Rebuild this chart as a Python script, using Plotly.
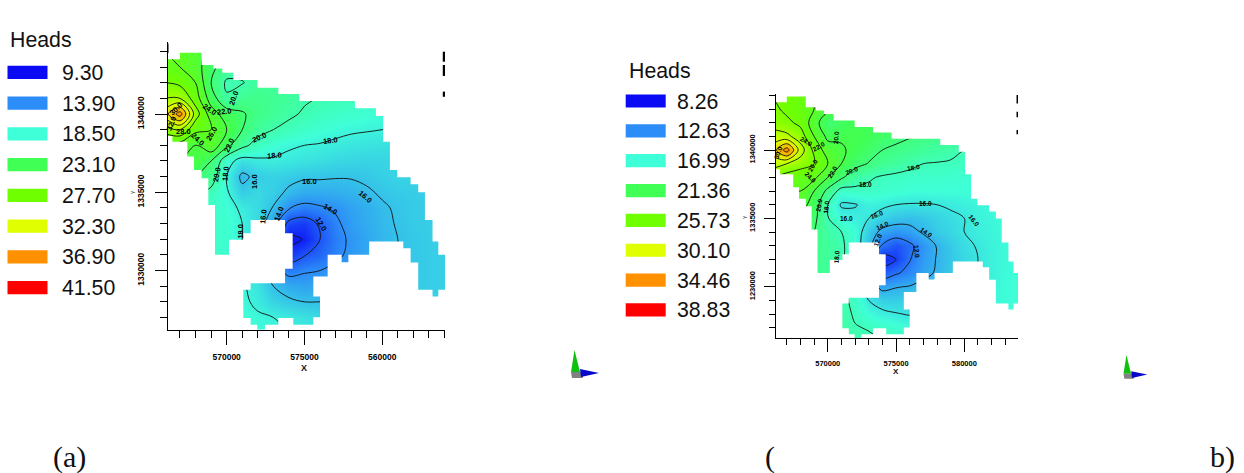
import plotly.graph_objects as go

W, H = 1244, 473

# grid nodes (km)
x_nodes = [566, 567, 568, 569, 570, 571, 572, 573, 574, 575, 576, 577, 578, 579, 580, 581, 582, 583, 584]
y_nodes_top_down = [1344, 1343, 1342, 1341, 1340, 1339, 1338, 1337, 1336, 1335, 1334, 1333, 1332, 1331, 1330, 1329, 1328, 1327, 1326]

heads_a = [
 [26,26,25,23,22,21,21,20.8,20.6,20.4,20.2,20,19.8,19.6,19.4,19.2,19,18.8,18.6],
 [26.5,26,25,22.5,21,20.6,20.6,20.6,20.5,20.3,20.1,19.9,19.7,19.5,19.3,19.1,18.9,18.7,18.5],
 [28,27.5,26,22,19.7,19.9,20.7,20.7,20.5,20.3,20.1,19.9,19.6,19.4,19.2,19,18.8,18.6,18.4],
 [30,30,27,23,20.2,21,21.2,20.9,20.6,20.2,19.9,19.6,19.4,19.1,18.9,18.7,18.5,18.3,18.1],
 [33,37,29,25,23,22.2,21.3,20.8,20.3,19.8,19.3,19.1,18.9,18.7,18.5,18.3,18.1,17.9,17.7],
 [29,30,26.5,26,24,22,20.6,20,19.5,19,18.7,18.4,18.2,18.1,18,17.9,17.8,17.7,17.6],
 [25,25,24,25.5,22.5,20.5,19.3,18.6,18.2,18,17.9,17.7,17.5,17.4,17.3,17.2,17.1,17,17],
 [24,24,24,22,18.7,17.3,17.7,17.8,17.6,17.4,17.2,17,16.9,16.8,16.8,16.8,16.8,16.8,16.8],
 [23,23,22,21,18,15.6,16.5,16.7,16.5,16.2,16.2,16.1,16.1,16.3,16.6,16.8,16.8,16.8,16.8],
 [22,21,20.5,19.5,18.2,16.5,17,16.6,15.7,15.2,15.2,15.3,15.5,15.8,16.2,16.4,16.5,16.6,16.6],
 [21,20,19.5,19,18.6,17.7,17,15.9,14.1,13.5,13.8,14.2,14.8,15.3,15.8,16.2,16.4,16.5,16.6],
 [20,20,19.5,19,18.8,18,17,14.8,11.5,11,12.3,13.7,14.6,15.2,15.7,16.1,16.4,16.5,16.6],
 [20,20,19.5,19,18.8,18,16.5,14,9.5,10.1,12,13.4,14.3,15,15.6,16,16.3,16.5,16.6],
 [20,20,19.5,19,18.7,18,16.5,14,10.8,11.9,12.6,13.6,14.4,15.1,15.6,16,16.3,16.5,16.6],
 [20,20,19.5,19,18.6,18,17,15,13.3,13.8,14,14.5,15,15.4,15.8,16.1,16.3,16.5,16.6],
 [20,20,19.5,19,18.6,18.2,17.4,16,15.2,14.9,15.1,15.3,15.5,15.8,16,16.2,16.4,16.5,16.6],
 [20,20,19.5,19,18.7,18.3,17.7,16.8,16.3,16,16,16,16,16.1,16.2,16.3,16.4,16.5,16.6],
 [20,20,19.5,19,18.8,18.6,18.2,18,17.7,17.4,17,16.8,16.7,16.6,16.5,16.5,16.5,16.5,16.6],
 [20,20,19.5,19,18.9,18.7,18.4,18.2,18,17.7,17.3,17,16.9,16.8,16.7,16.6,16.6,16.6,16.6],
]
heads_b = [
 [26,26,25,24,23,22,21.5,21.2,21,20.8,20.5,20.3,20,19.8,19.6,19.4,19.2,19,18.8],
 [26.5,25.5,25,24,22.5,21.5,21.3,21.2,21,20.8,20.5,20.2,19.9,19.7,19.5,19.3,19,18.8,18.6],
 [27,26.5,25.5,23,20.3,21,21.4,21.2,21,20.7,20.4,20.1,19.8,19.6,19.4,19.2,18.9,18.7,18.5],
 [29,28.5,27,24,21.5,21.7,21.7,21.3,20.8,20.4,20.1,19.8,19.5,19.3,19.1,18.9,18.7,18.5,18.3],
 [31,35,29,25.5,23,22.3,21.4,20.7,20,19.7,19.4,19.1,18.8,18.5,18,17.8,17.7,17.6,17.5],
 [29,28,27,26,24,22,20.6,19.9,19.3,18.9,18.4,18,17.9,17.8,17.7,17.6,17.5,17.4,17.3],
 [26,25,24.5,24.5,22,20.3,18.8,18.2,17.8,17.6,17.5,17.4,17.4,17.3,17.2,17.2,17.1,17.1,17],
 [25,24,24,22,19.5,17.3,17.6,17.6,17.4,17.2,17,17,17,17,17,17,17,17,17],
 [24,24,23,21,18,15.8,15.9,16.5,16.3,16,15.9,15.9,16,16.2,16.4,16.6,16.8,16.9,17],
 [23,23,22,20.5,18.1,16.8,16.4,16,15.3,14.8,14.6,14.9,15.3,15.7,16,16.5,16.7,16.9,17],
 [22,22,21,20,18.6,18,17,15,13.5,13,13.4,14.2,15,15.5,16,16.3,16.6,16.9,17],
 [21,21,20.5,19.5,19,18.3,17,14.5,11.8,10.7,11.6,13,14.1,15,15.7,16.1,16.5,16.8,17],
 [21,21,20.5,19.5,19,18.3,16.8,14,9,10,11.9,13.2,14.1,14.9,15.5,16,16.5,16.8,17],
 [21,21,20.5,19.5,19,18.3,16.8,14,11,11.8,12.5,13.5,14.2,15,15.6,16.1,16.5,16.8,17],
 [21,21,20.5,19.5,19,18.3,17.2,15,13.5,13.9,14.1,14.6,15.1,15.6,16,16.3,16.6,16.9,17],
 [20.5,20.5,20,19.5,19,18.4,17.6,16,15.2,15.1,15.3,15.6,15.8,16,16.2,16.5,16.7,16.9,17],
 [20.5,20.5,20,19.5,19,18.6,17.8,16.9,16.4,16.1,15.9,16.1,16.2,16.4,16.5,16.6,16.8,16.9,17],
 [20,20,20,19.5,19.2,18.8,18.1,17.9,17.6,17.3,17,17,16.9,16.9,16.8,16.8,16.9,16.9,17],
 [20,20,20,19.5,19.2,19,18.5,18.3,18,17.7,17.4,17.2,17.1,17,17,17,17,17,17],
]

# model domain outline (km), shared by both maps
outline_x = [567.0,568.39,568.39,569.14,569.14,569.72,569.72,570.43,570.43,571.97,571.97,573.32,573.32,574.67,574.67,
 578.24,578.24,579.59,579.59,580.06,580.06,580.49,580.49,580.96,580.96,581.82,581.82,582.31,582.31,582.74,582.74,
 583.23,583.23,583.6,583.6,584.09,584.09,583.6,583.6,583.23,583.23,582.31,582.31,581.82,581.82,581.35,581.35,
 579.16,579.16,577.82,577.82,577.39,577.39,576.49,576.49,575.57,575.57,576.0,576.0,575.57,575.57,574.28,574.28,
 573.32,573.32,572.46,572.46,571.97,571.97,571.54,571.54,571.07,571.07,571.54,571.54,573.75,573.75,574.24,574.24,
 573.75,573.75,571.54,571.54,571.07,571.07,570.15,570.15,569.25,569.25,568.82,568.82,568.39,568.39,567.9,567.9,
 567.47,567.47,566.51,566.51,566.15,566.15,567.0]
outline_y = [1343.91,1343.91,1343.13,1343.13,1342.9,1342.9,1342.64,1342.64,1342.17,1342.17,1341.68,1341.68,1341.28,1341.28,1340.83,
 1340.83,1340.36,1340.36,1339.87,1339.87,1338.23,1338.23,1336.43,1336.43,1335.96,1335.96,1335.51,1335.51,1335.0,1335.0,1333.23,
 1333.23,1331.85,1331.85,1331.0,1331.0,1328.77,1328.77,1328.34,1328.34,1328.77,1328.77,1330.51,1330.51,1331.43,1331.43,1331.85,
 1331.85,1331.0,1331.0,1330.53,1330.53,1331.0,1331.0,1329.62,1329.62,1328.34,1328.34,1327.02,1327.02,1326.53,1326.53,1326.96,
 1326.96,1326.53,1326.53,1326.11,1326.11,1326.53,1326.53,1326.96,1326.96,1328.77,1328.77,1329.19,1329.19,1330.11,1330.11,1332.38,
 1332.38,1333.23,1333.23,1332.38,1332.38,1331.96,1331.96,1331.0,1331.0,1334.19,1334.19,1335.89,1335.89,1336.43,1336.43,1337.28,
 1337.28,1338.23,1338.23,1338.6,1338.6,1343.5,1343.5]

legend_a = [9.30, 13.90, 18.50, 23.10, 27.70, 32.30, 36.90, 41.50]
legend_b = [8.26, 12.63, 16.99, 21.36, 25.73, 30.10, 34.46, 38.83]
legend_colors = ["#0a0af5", "#2c8cf8", "#3fffd8", "#40ff55", "#70ff00", "#e0ff00", "#ff9000", "#ff0000"]

tick_vals = [570, 575, 580]
xticks_a = ["<b>570000</b>", "<b>575000</b>", "<b>560000</b>"]
xticks_b = ["<b>570000</b>", "<b>575000</b>", "<b>580000</b>"]
ytick_vals = [1330, 1335, 1340]
yticks_a = ["<b>1330000</b>", "<b>1335000</b>", "<b>1340000</b>"]
yticks_b = ["<b>1230000</b>", "<b>1335000</b>", "<b>1340000</b>"]

# contour labels: x km, y km, text, angle
labels_a = [
 (566.04, 1339.79, "30.0", -70), (566.45, 1339.4, "32.0", -70), (566.79, 1340.32, "30.0", -45),
 (567.22, 1338.87, "28.0", 0), (568.14, 1338.34, "24.0", 45), (569.04, 1338.77, "26.0", -60),
 (568.89, 1340.26, "24.0", 35), (569.89, 1340.15, "22.0", -5), (570.47, 1341.06, "20.0", -70),
 (570.21, 1338.02, "22.0", -65), (572.1, 1338.51, "20.0", -25), (573.1, 1337.38, "18.0", -5),
 (576.7, 1338.3, "18.0", -8), (569.36, 1336.15, "20.0", -80), (569.96, 1336.17, "18.0", -85),
 (571.82, 1335.72, "16.0", -90), (575.35, 1335.66, "16.0", 0), (578.89, 1334.72, "16.0", 40),
 (573.36, 1333.66, "14.0", -70), (576.7, 1333.91, "14.0", 30), (576.06, 1332.91, "12.0", 60),
 (572.36, 1333.45, "16.0", -85), (570.9, 1332.53, "18.0", -90),
]
labels_b = [
 (566.39, 1339.8, "30.0", -70), (568.46, 1340.66, "24.0", 30), (569.32, 1340.29, "22.0", -30),
 (570.59, 1340.93, "20.0", -85), (568.88, 1338.9, "26.0", -60), (568.76, 1338.0, "24.0", 45),
 (570.37, 1338.41, "22.0", -60), (571.76, 1338.54, "20.0", -20), (572.73, 1337.51, "18.0", 0),
 (576.27, 1338.73, "18.0", -10), (569.32, 1335.98, "20.0", -80), (569.88, 1335.8, "18.0", -85),
 (571.34, 1335.0, "16.0", 0), (573.59, 1335.32, "16.0", -20), (577.17, 1336.12, "16.0", 0),
 (580.73, 1334.88, "16.0", 50), (574.02, 1334.46, "14.0", -25), (577.24, 1334.0, "14.0", 35),
 (573.63, 1333.41, "12.0", -70), (576.51, 1332.56, "12.0", 85), (570.66, 1332.2, "18.0", -85),
]

blobs_a_x = [566.15, 566.15, None, 584.0, 584.0, None, 584.0, 584.0, None, 584.0, 584.0]
blobs_a_y = [1344.5, 1343.9, None, 1343.98, 1343.34, None, 1343.13, 1342.43, None, 1341.43, 1341.1]
blobs_b_x = [583.95, 583.95, None, 583.95, 583.95, None, 583.95, 583.95]
blobs_b_y = [1344.02, 1343.41, None, 1342.8, 1342.39, None, 1341.46, 1341.15]
smear_b_x = [564.3, 566.2]
smear_b_y = [1326.02, 1326.1]


def px(x): return x / W
def py(y): return 1 - y / H


def scale(levels):
    lo, hi = levels[0], levels[-1]
    return [[(v - lo) / (hi - lo), c] for v, c in zip(levels, legend_colors)]


fig = go.Figure()


def add_map(heads, levels, xa, ya):
    rows = heads[::-1]
    ys = y_nodes_top_down[::-1]
    fig.add_trace(go.Heatmap(x=x_nodes, y=ys, z=rows, zsmooth="best", colorscale=scale(levels),
                             zmin=levels[0], zmax=levels[-1], showscale=False, hoverinfo="skip", xaxis=xa, yaxis=ya))
    fig.add_trace(go.Contour(x=x_nodes, y=ys, z=rows, showscale=False, hoverinfo="skip", xaxis=xa, yaxis=ya,
                             contours=dict(coloring="none", start=10, end=36, size=2),
                             line=dict(color="#111", width=0.9, smoothing=1)))
    cx = (outline_x + outline_x[:1])[::-1]
    cy = (outline_y + outline_y[:1])[::-1]
    mx = [550, 600, 600, 550, 550] + cx + [550]
    my = [1360, 1360, 1310, 1310, 1360] + cy + [1360]
    fig.add_trace(go.Scatter(x=mx, y=my, mode="lines", fill="toself", fillcolor="white", line=dict(width=0),
                             hoverinfo="skip", xaxis=xa, yaxis=ya))


add_map(heads_a, legend_a, "x", "y")
add_map(heads_b, legend_b, "x2", "y2")

fig.add_trace(go.Scatter(x=blobs_a_x, y=blobs_a_y, mode="lines", line=dict(color="black", width=3.5), cliponaxis=False,
                         hoverinfo="skip", xaxis="x", yaxis="y"))
fig.add_trace(go.Scatter(x=blobs_b_x, y=blobs_b_y, mode="lines", line=dict(color="black", width=3.5), cliponaxis=False,
                         hoverinfo="skip", xaxis="x2", yaxis="y2"))
fig.add_trace(go.Scatter(x=smear_b_x, y=smear_b_y, mode="lines", line=dict(color="black", width=1.5), cliponaxis=False,
                         hoverinfo="skip", xaxis="x2", yaxis="y2"))


def axis(dom, rng, vals, text, size, anchor, angle, major, minor, standoff):
    return dict(domain=dom, range=rng, tickmode="array", tickvals=vals, ticktext=text, anchor=anchor,
                tickangle=angle, tickfont=dict(size=size, color="#000", family="Liberation Sans"),
                ticks="outside", ticklen=major, tickcolor="#000", tickwidth=1, showgrid=False, zeroline=False,
                showline=True, linecolor="#000", linewidth=1.3, layer="above traces", ticklabelstandoff=standoff,
                minor=dict(tickmode="linear", tick0=566, dtick=1, ticks="outside", ticklen=minor, tickcolor="#000", tickwidth=1, showgrid=False))


layout = dict(
    width=W, height=H, margin=dict(l=0, r=0, t=0, b=0), paper_bgcolor="white", plot_bgcolor="white", showlegend=False,
    xaxis=axis([px(168), px(445)], [566.23, 584.03], tick_vals, xticks_a, 8.5, "y", 0, 14, 7, 5),
    yaxis=axis([py(330), py(42)], [1326.2, 1344.6], ytick_vals, yticks_a, 8.5, "x", -90, 12, 7, 7),
    xaxis2=axis([px(776), px(1018)], [566.21, 583.93], tick_vals, xticks_b, 7.5, "y2", 0, 13, 6, 5),
    yaxis2=axis([py(338), py(94)], [1326.25, 1344.1], ytick_vals, yticks_b, 7.5, "x2", -90, 11, 6, 6),
)
fig.update_layout(**layout)

shapes, notes = [], []


def text(x, y, s, size, fam="Liberation Sans", anchor="left", angle=0):
    notes.append(dict(x=px(x), y=py(y), xref="paper", yref="paper", text=s, showarrow=False, xanchor=anchor, yanchor="middle",
                      font=dict(size=size, family=fam, color="#111"), textangle=angle))


def add_legend(x0, head_x, head_y, label_x, first_y, step, levels):
    text(head_x, head_y, "Heads", 21.3)
    for i, (v, c) in enumerate(zip(levels, legend_colors)):
        yc = first_y + i * step
        shapes.append(dict(type="rect", xref="paper", yref="paper", x0=px(x0), x1=px(x0 + 40), y0=py(yc - 6.6), y1=py(yc + 6.6),
                           fillcolor=c, line=dict(width=0)))
        text(label_x, yc + 0.5, f"{v:.2f}", 21.3)


add_legend(7.5, 8, 40, 60, 72.3, 30.75, legend_a)
add_legend(625.7, 626.5, 71, 675, 101, 29.85, legend_b)

for lx, ly, s, a in labels_a:
    notes.append(dict(x=lx, y=ly, xref="x", yref="y", text=f"<b>{s}</b>", showarrow=False, textangle=a,
                      font=dict(size=7.5, family="Liberation Sans", color="#000")))
for lx, ly, s, a in labels_b:
    notes.append(dict(x=lx, y=ly, xref="x2", yref="y2", text=f"<b>{s}</b>", showarrow=False, textangle=a,
                      font=dict(size=6.5, family="Liberation Sans", color="#000")))

text(304, 367.5, "<b>X</b>", 9, anchor="center")
text(896, 371, "<b>X</b>", 8, anchor="center")
text(133, 192, "Y", 5, anchor="center", angle=-90)
text(745, 217, "Y", 5, anchor="center", angle=-90)
text(50.5, 457, "(a)", 30, fam="Liberation Serif")
text(763, 457, "(", 30, fam="Liberation Serif")
text(1208, 457, "b)", 30, fam="Liberation Serif")


def triad(ax, ay, k):
    def p(pts):
        return "M " + " L ".join(f"{px(ax + a * k)},{py(ay + b * k)}" for a, b in pts) + " Z"
    shapes.append(dict(type="path", xref="paper", yref="paper", path=p([(3.5, 0), (0, 22), (9, 22)]), fillcolor="#10c010", line=dict(width=0)))
    shapes.append(dict(type="path", xref="paper", yref="paper", path=p([(0, 22), (12, 22), (12, 28), (1, 28)]), fillcolor="#808080", line=dict(width=0)))
    shapes.append(dict(type="path", xref="paper", yref="paper", path=p([(9, 19), (28, 23), (10, 27)]), fillcolor="#0808c8", line=dict(width=0)))


triad(571, 350, 1.0)
triad(1123.5, 355, 0.85)
fig.update_layout(shapes=shapes, annotations=notes)

fig.write_html("out.html", config={"displayModeBar": False},
               post_script="document.body.style.margin='0';document.body.style.overflow='hidden';")
